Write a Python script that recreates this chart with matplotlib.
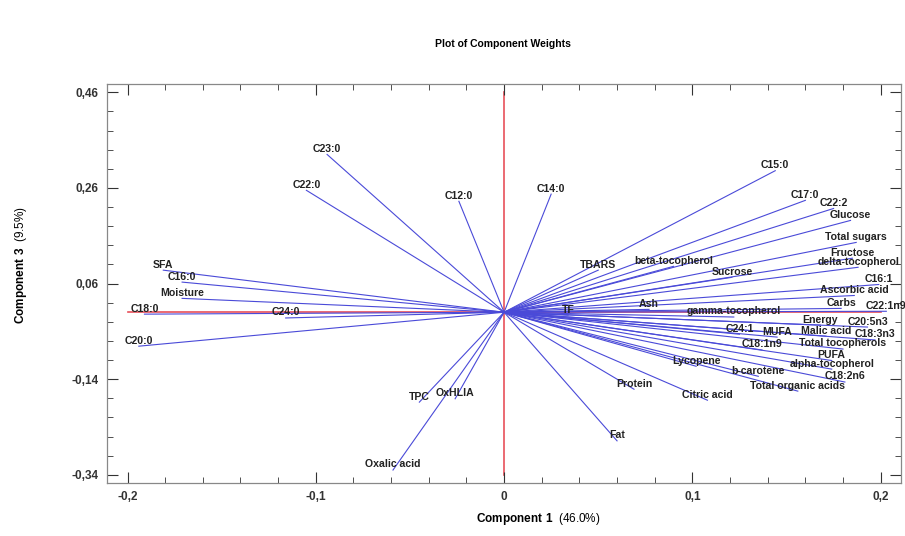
"""
Plot of Component Weights
"""
import matplotlib
matplotlib.use("Agg")
import matplotlib.pyplot as plt
from matplotlib.ticker import MultipleLocator, FuncFormatter

# variable names and their weights on component 1 / component 3
names = ["C15:0", "C17:0", "C22:2", "Glucose", "Total sugars", "Fructose",
         "delta-tocopherol", "C16:1", "Ascorbic acid", "Carbs", "C22:1n9",
         "Energy", "C20:5n3", "Malic acid", "C18:3n3", "MUFA", "C24:1",
         "Total tocopherols", "C18:1n9", "PUFA", "alpha-tocopherol", "C18:2n6",
         "b-carotene", "Lycopene", "Total organic acids", "Citric acid",
         "Protein", "Fat", "TBARS", "beta-tocopherol", "Sucrose", "Ash", "TF",
         "gamma-tocopherol", "TPC", "OxHLIA", "Oxalic acid", "C23:0", "C22:0",
         "C12:0", "C14:0", "SFA", "C16:0", "Moisture", "C18:0", "C24:0", "C20:0"]
comp1 = [0.144, 0.160, 0.175, 0.184, 0.187, 0.185,
         0.188, 0.199, 0.186, 0.179, 0.203,
         0.168, 0.193, 0.171, 0.197, 0.145, 0.125,
         0.180, 0.137, 0.174, 0.174, 0.181,
         0.135, 0.102, 0.156, 0.108,
         0.069, 0.060, 0.050, 0.090, 0.121, 0.077, 0.034,
         0.122, -0.045, -0.026, -0.059, -0.094, -0.105,
         -0.024, 0.025, -0.181, -0.171, -0.171, -0.191, -0.116, -0.194]
comp3 = [0.296, 0.234, 0.217, 0.192, 0.146, 0.113,
         0.094, 0.058, 0.035, 0.008, 0.002,
         -0.027, -0.031, -0.050, -0.058, -0.052, -0.046,
         -0.077, -0.079, -0.101, -0.119, -0.146,
         -0.134, -0.113, -0.165, -0.184,
         -0.161, -0.269, 0.088, 0.096, 0.073, 0.006, -0.006,
         -0.010, -0.188, -0.181, -0.330, 0.330, 0.255,
         0.232, 0.247, 0.088, 0.063, 0.029, -0.004, -0.012, -0.071]

plt.rcParams['font.family'] = ['Liberation Sans', 'DejaVu Sans']
plt.rcParams['mathtext.fontset'] = 'custom'
plt.rcParams['mathtext.rm'] = 'Liberation Sans'
plt.rcParams['mathtext.bf'] = 'Liberation Sans:bold'

fig = plt.figure(figsize=(9.05, 5.36), dpi=100)
ax = fig.add_axes([0.118, 0.099, 0.878, 0.744])

# red reference axes
ax.plot([-0.2, 0.2], [0, 0], color='#e8505a', lw=1.2, zorder=1)
ax.plot([0, 0], [-0.34, 0.46], color='#e8505a', lw=1.2, zorder=1)

# vectors
for n, x, y in zip(names, comp1, comp3):
    ax.plot([0, x], [0, y], color='#4a4ad8', lw=0.8, zorder=2)
    ax.annotate(n, (x, y), xytext=(0, 4), textcoords='offset points',
                ha='center', va='center', fontsize=7.6, fontweight='bold',
                color='#222222', zorder=3)

ax.set_xlim(-0.211, 0.211)
ax.set_ylim(-0.357, 0.477)
ax.xaxis.set_major_locator(MultipleLocator(0.1))
ax.xaxis.set_minor_locator(MultipleLocator(0.02))
ax.set_yticks([-0.34, -0.14, 0.06, 0.26, 0.46])
ax.set_yticks([-0.34 + 0.04 * i for i in range(21)], minor=True)


def comma(v, pos):
    s = "%g" % round(v, 2)
    return s.replace(".", ",")


ax.xaxis.set_major_formatter(FuncFormatter(comma))
ax.yaxis.set_major_formatter(FuncFormatter(lambda v, p: ("%.2f" % v).replace(".", ",")))
ax.tick_params(which='both', direction='in', top=True, right=True,
               labelsize=8.5, colors='#333333')
ax.tick_params(which='major', length=8, width=0.8, pad=6)
ax.tick_params(which='minor', length=4, width=0.6)
for lab in ax.get_xticklabels() + ax.get_yticklabels():
    lab.set_fontweight('bold')
for sp in ax.spines.values():
    sp.set_color('#888888')
    sp.set_linewidth(0.9)

fig.text(0.595, 0.017, r"$\bf{Component\ 1}$  (46.0%)", ha='center',
         va='bottom', fontsize=8.5)
fig.text(0.014, 0.505, r"$\bf{Component\ 3}$  (9.5%)", va='center',
         rotation=90, fontsize=8.5)
fig.text(0.556, 0.912, "Plot of Component Weights", ha='center',
         fontsize=7.5, fontweight='bold')

plt.savefig("out.png", dpi=100)
plt.close()
